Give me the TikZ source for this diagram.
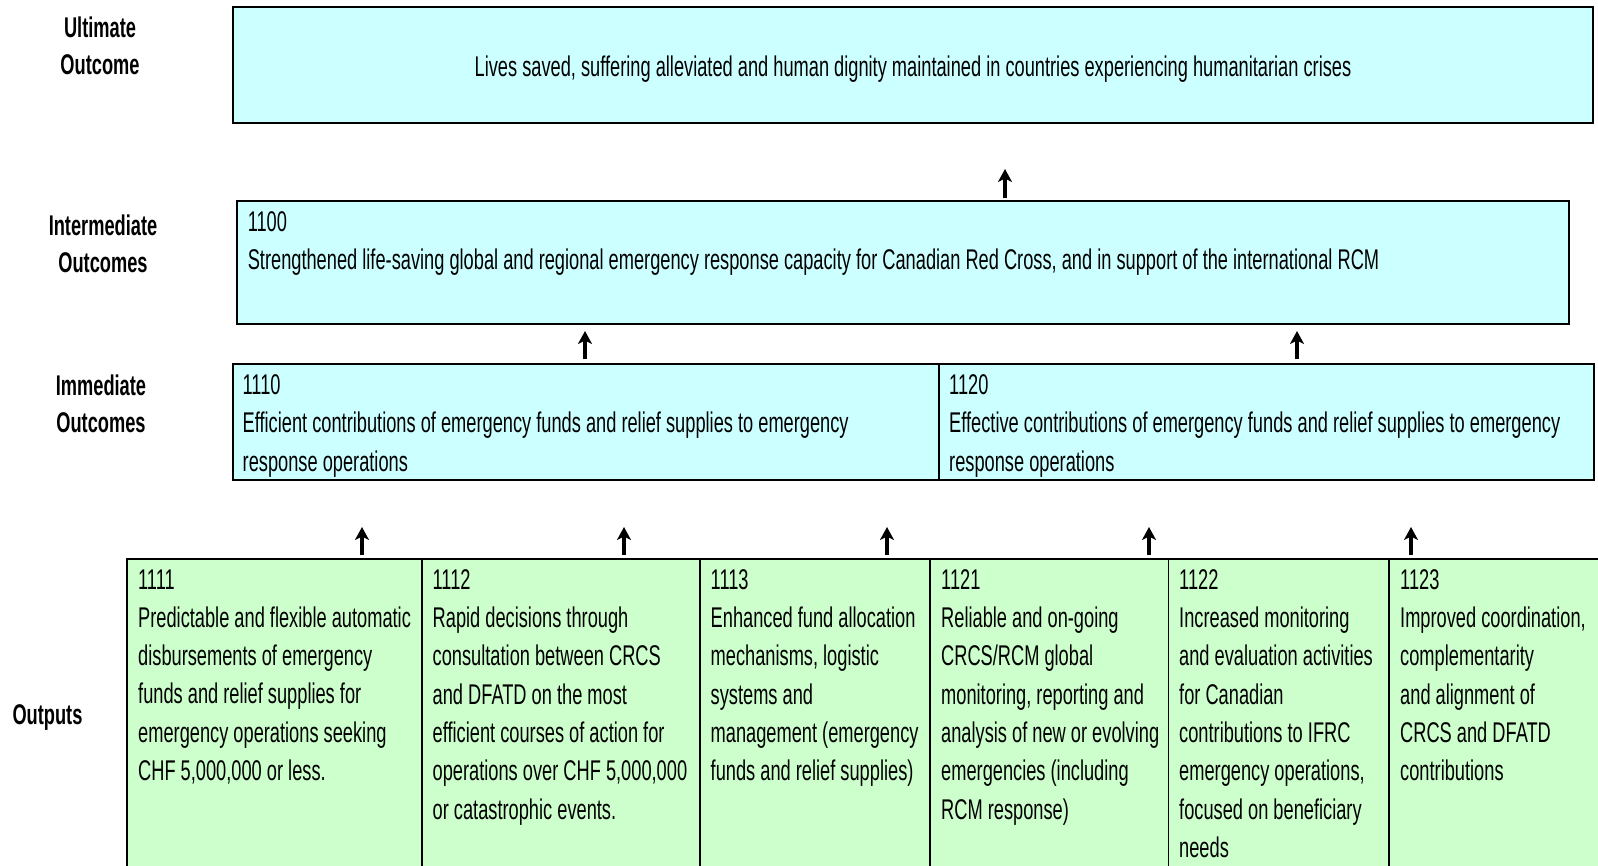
\documentclass[tikz,border=0pt]{standalone}
\usepackage{fontspec}
\setmainfont[FakeStretch=0.64]{Liberation Sans}
\usetikzlibrary{arrows.meta}
\definecolor{cyanbox}{HTML}{CCFFFF}
\definecolor{greenbox}{HTML}{CCFFCC}
\tikzset{
  box/.style={draw=black, line width=1.6pt, rectangle, inner sep=0pt, outer sep=0pt, anchor=north west},
  cbox/.style={box, fill=cyanbox},
  gbox/.style={box, fill=greenbox, minimum height=330pt},
  txt/.style={anchor=north west, inner sep=0pt, align=left, font=\fontsize{28.5}{38.3}\selectfont, execute at begin node={\rule{0pt}{25pt}}},
  lbl/.style={anchor=north, inner sep=0pt, align=center, font=\fontsize{28.5}{37}\selectfont\bfseries, execute at begin node={\rule{0pt}{25pt}}},
  up/.style={line width=3.6pt, -{Stealth[length=13pt,width=14pt,inset=3.5pt]}},
}
\begin{document}
\begin{tikzpicture}[x=1pt,y=-1pt]
\useasboundingbox (0,0) rectangle (1598,865);
\clip (0,0) rectangle (1598,865);

% level labels
\node[lbl] (lult) at (100,16.8) {Ultimate\\Outcome};
\node[lbl] (lint) at (103,214.5) {Intermediate\\Outcomes};
\node[lbl] (limm) at (101,374.5) {Immediate\\Outcomes};
\node[lbl] (lout) at (47.5,699) {Outputs};

% ultimate outcome
\node[cbox, minimum width=1360pt, minimum height=116pt] (ult) at (233,7) {};
\node[anchor=base, inner sep=0pt, font=\fontsize{28.5}{38.3}\selectfont] (ultt) at (913,76.7)
  {Lives saved, suffering alleviated and human dignity maintained in countries experiencing humanitarian crises};

% intermediate outcome
\node[cbox, minimum width=1332pt, minimum height=123pt] (int) at (237,201) {};
\node[txt] (intt) at (247.6,211.5) {1100\\Strengthened life-saving global and regional emergency response capacity for Canadian Red Cross, and in support of the international RCM};

% immediate outcomes
\node[cbox, minimum width=706pt, minimum height=116pt] (imm1) at (233,364) {};
\node[cbox, minimum width=655pt, minimum height=116pt] (imm2) at (939,364) {};
\node[txt] (imm1t) at (242.5,374.5) {1110\\Efficient contributions of emergency funds and relief supplies to emergency\\response operations};
\node[txt] (imm2t) at (949,374.5) {1120\\Effective contributions of emergency funds and relief supplies to emergency\\response operations};

% outputs
\node[gbox, minimum width=295pt] (o1) at (127,559) {};
\node[gbox, minimum width=278pt] (o2) at (422,559) {};
\node[gbox, minimum width=230pt] (o3) at (700,559) {};
\node[gbox, minimum width=238.5pt] (o4) at (930,559) {};
\node[gbox, minimum width=220.5pt] (o5) at (1168.5,559) {};
\node[gbox, minimum width=240pt] (o6) at (1389,559) {};

\node[txt] (o1t) at (138,569.2) {1111\\Predictable and flexible automatic\\disbursements of emergency\\funds and relief supplies for\\emergency operations seeking\\CHF 5,000,000 or less.};
\node[txt] (o2t) at (432.5,569.2) {1112\\Rapid decisions through\\consultation between CRCS\\and DFATD on the most\\efficient courses of action for\\operations over CHF 5,000,000\\or catastrophic events.};
\node[txt] (o3t) at (710.5,569.2) {1113\\Enhanced fund allocation\\mechanisms, logistic\\systems and\\management (emergency\\funds and relief supplies)};
\node[txt] (o4t) at (941,569.2) {1121\\Reliable and on-going\\CRCS/RCM global\\monitoring, reporting and\\analysis of new or evolving\\emergencies (including\\RCM response)};
\node[txt] (o5t) at (1179,569.2) {1122\\Increased monitoring\\and evaluation activities\\for Canadian\\contributions to IFRC\\emergency operations,\\focused on beneficiary\\needs};
\node[txt] (o6t) at (1400,569.2) {1123\\Improved coordination,\\complementarity\\and alignment of\\CRCS and DFATD\\contributions};

% arrows
\coordinate (a0s) at (1005,198); \coordinate (a0e) at (1005,169);
\coordinate (a1s) at (585,359);  \coordinate (a1e) at (585,331);
\coordinate (a2s) at (1297,359); \coordinate (a2e) at (1297,331);
\coordinate (b1s) at (362,555);  \coordinate (b1e) at (362,527);
\coordinate (b2s) at (624,555);  \coordinate (b2e) at (624,527);
\coordinate (b3s) at (887,555);  \coordinate (b3e) at (887,527);
\coordinate (b4s) at (1149,555); \coordinate (b4e) at (1149,527);
\coordinate (b5s) at (1411,555); \coordinate (b5e) at (1411,527);
\foreach \a in {a0,a1,a2,b1,b2,b3,b4,b5}{
  \draw[up] (\a s) -- (\a e);
}
\end{tikzpicture}
\end{document}
